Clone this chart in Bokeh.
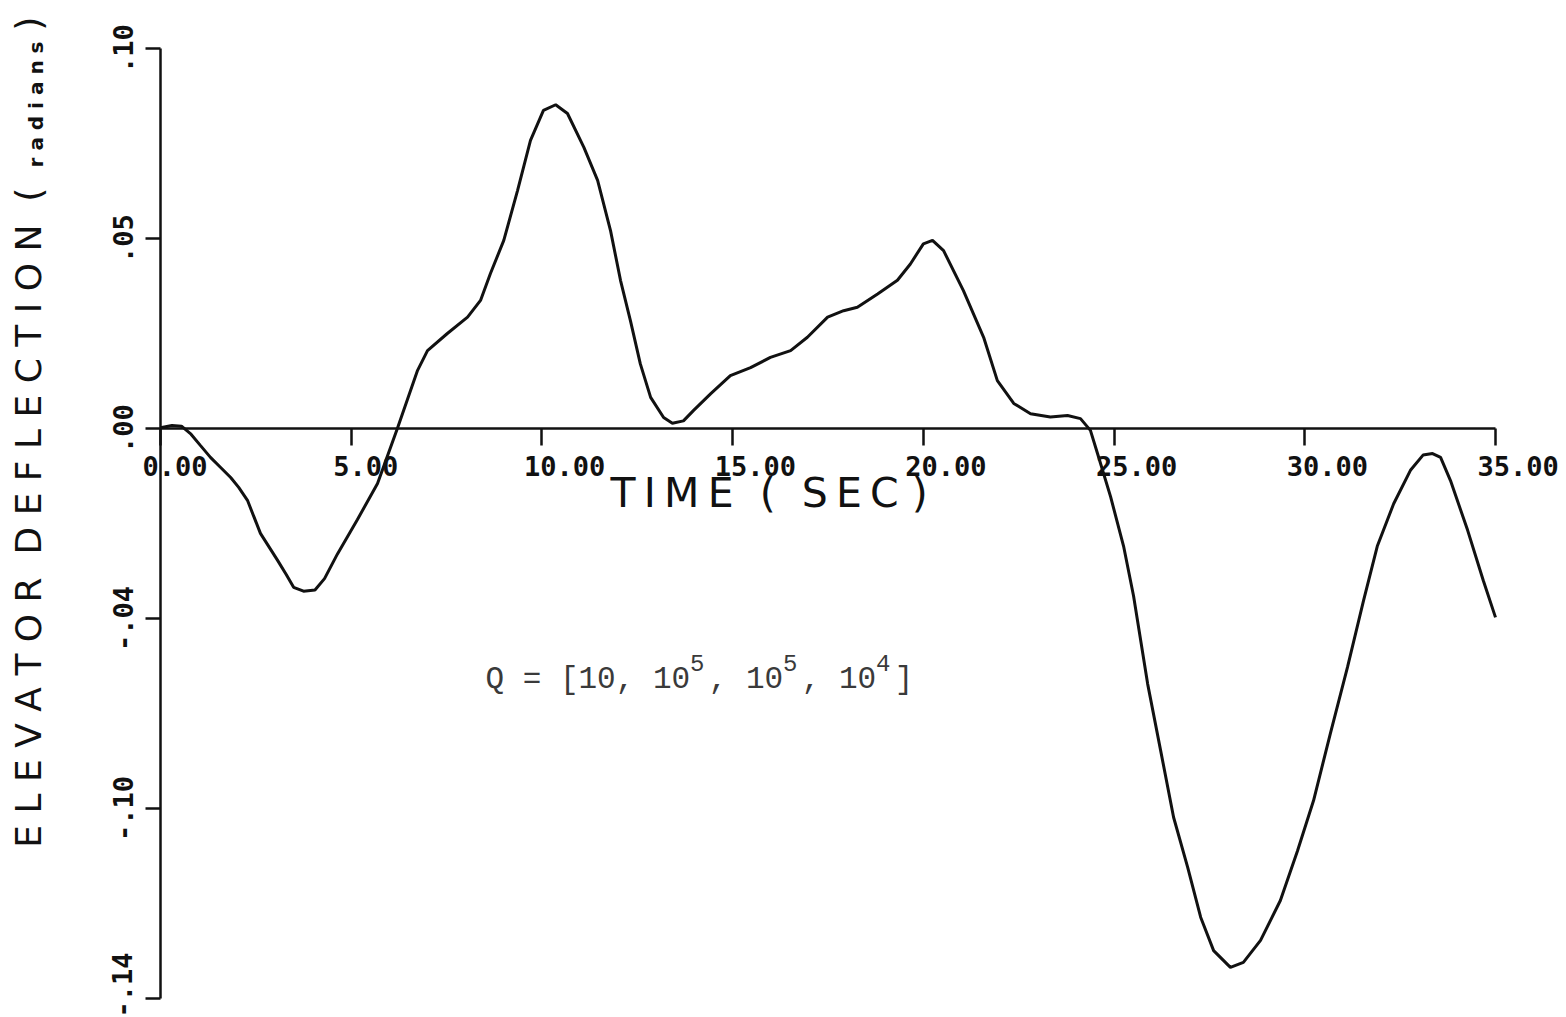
import math

from bokeh.core.properties import value
from bokeh.embed import file_html
from bokeh.models import ColumnDataSource, FixedTicker, Label, LabelSet, LinearAxis, Range1d
from bokeh.plotting import figure
from bokeh.resources import INLINE

# Elevator deflection time history (seconds, radians)
time_s = [
    0.00, 0.30, 0.55, 0.80, 1.05, 1.31, 1.55, 1.84, 2.05, 2.28, 2.62, 3.07, 3.30,
    3.49, 3.75, 4.05, 4.30, 4.64, 5.16, 5.69, 6.21, 6.74, 7.00, 7.52, 8.05, 8.39,
    8.65, 9.00, 9.36, 9.70, 10.04, 10.36, 10.67, 11.10, 11.46, 11.80, 12.06, 12.32,
    12.58, 12.85, 13.19, 13.42, 13.71, 13.97, 14.42, 14.94, 15.47, 15.99, 16.52,
    16.96, 17.49, 17.91, 18.27, 18.80, 19.32, 19.66, 20.00, 20.24, 20.53, 21.05,
    21.58, 21.94, 22.37, 22.81, 23.33, 23.78, 24.12, 24.38, 24.57, 24.91, 25.25,
    25.51, 25.88, 26.22, 26.56, 26.93, 27.27, 27.61, 28.05, 28.39, 28.84, 29.36,
    29.81, 30.23, 30.67, 31.12, 31.54, 31.90, 32.33, 32.77, 33.10, 33.35, 33.56,
    33.82, 34.27, 34.68, 35.00,
]
deflection = [
    0.0002, 0.0008, 0.0006, -0.0015, -0.0045, -0.0076, -0.0100, -0.0129, -0.0155,
    -0.0189, -0.0276, -0.0347, -0.0385, -0.0418, -0.0428, -0.0425, -0.0395, -0.0330,
    -0.0240, -0.0145, 0.0000, 0.0153, 0.0205, 0.0250, 0.0293, 0.0337, 0.0408,
    0.0495, 0.0626, 0.0758, 0.0837, 0.0852, 0.0829, 0.0740, 0.0653, 0.0520, 0.0390,
    0.0284, 0.0170, 0.0082, 0.0029, 0.0014, 0.0020, 0.0047, 0.0091, 0.0139, 0.0160,
    0.0187, 0.0205, 0.0240, 0.0293, 0.0310, 0.0319, 0.0354, 0.0390, 0.0433, 0.0486,
    0.0495, 0.0468, 0.0363, 0.0240, 0.0126, 0.0066, 0.0039, 0.0030, 0.0034, 0.0026,
    -0.0005, -0.0067, -0.0180, -0.0310, -0.0440, -0.0672, -0.0847, -0.1023, -0.1155,
    -0.1286, -0.1374, -0.1418, -0.1405, -0.1347, -0.1242, -0.1111, -0.0979, -0.0803,
    -0.0628, -0.0453, -0.0310, -0.0198, -0.0110, -0.0070, -0.0066, -0.0076, -0.0137,
    -0.0268, -0.0400, -0.0497,
]

x_ticks = [0, 5, 10, 15, 20, 25, 30, 35]
x_tick_labels = ["0.00", "5.00", "10.00", "15.00", "20.00", "25.00", "30.00", "35.00"]
y_ticks = [0.10, 0.05, 0.0, -0.05, -0.10, -0.15]
y_tick_labels = [".10", ".05", ".00", "-.04", "-.10", "-.14"]

weights_main = "Q = [10, 10 , 10 , 10 ]"
weights_exponents = ["5", "5", "4"]
exponent_slots = [11, 16, 21]

INK = "#111111"
NB = "\u00a0"
THIN = "\u2009"

# The drawing area fills the whole page; axes sit at fixed data positions
# (time axis through zero deflection, deflection axis at t = 0).
X_SPAN = (0.0, 35.0)
Y_SPAN = (-0.15, 0.10)
SEC_PER_PX = 35.0 / 1335.0
RAD_PER_PX = 0.25 / 950.0
x_range = Range1d(-160 * SEC_PER_PX, (1566 - 160) * SEC_PER_PX)
y_range = Range1d(-(1017 - 428) * RAD_PER_PX, 428 * RAD_PER_PX)

p = figure(
    width=1566, height=1017,
    output_backend="svg", toolbar_location=None,
    x_range=x_range, y_range=y_range,
    x_axis_location=None, y_axis_location=None,
    min_border=0,
)
p.outline_line_color = None
p.grid.visible = False
p.background_fill_color = "white"
p.border_fill_color = "white"

xa = LinearAxis(
    fixed_location=0, bounds=X_SPAN,
    ticker=FixedTicker(ticks=x_ticks),
    minor_tick_line_color=None,
    major_tick_in=0, major_tick_out=17,
    axis_line_width=2.5, axis_line_color=INK,
    major_tick_line_width=2.5, major_tick_line_color=INK,
    major_label_text_alpha=0, major_label_text_font_size="1px", major_label_standoff=0,
)
p.add_layout(xa, "below")

ya = LinearAxis(
    fixed_location=0, bounds=Y_SPAN,
    ticker=FixedTicker(ticks=y_ticks),
    major_label_overrides={t: s for t, s in zip(y_ticks, y_tick_labels)},
    minor_tick_line_color=None,
    major_tick_in=0, major_tick_out=15,
    axis_line_width=2.5, axis_line_color=INK,
    major_tick_line_width=2.5, major_tick_line_color=INK,
    major_label_orientation="vertical", major_label_standoff=13,
    major_label_text_font="DejaVu Sans Mono", major_label_text_font_style="bold",
    major_label_text_font_size="27px", major_label_text_color=INK,
)
p.add_layout(ya, "left")

p.line(time_s, deflection, line_color=INK, line_width=3)

# time tick labels, set just right of each tick
tick_src = ColumnDataSource(dict(x=x_ticks, y=[0] * len(x_ticks), text=x_tick_labels))
p.add_layout(LabelSet(
    x="x", y="y", text="text", source=tick_src,
    x_offset=-18, y_offset=-47, text_align="left", text_baseline="alphabetic",
    text_font=value("DejaVu Sans Mono"), text_font_style="bold",
    text_font_size="27px", text_color=INK,
))

# axis titles
x_title = "T" + THIN + "I" + THIN + "M" + THIN + "E" + NB + NB + "(" + NB + NB + \
    "S" + THIN + "E" + THIN + "C" + NB + ")"
p.add_layout(Label(
    x=11.80, y=-0.0171, text=x_title, text_align="left", text_baseline="alphabetic",
    text_font="DejaVu Sans", text_font_size="41px", text_color=INK,
))


def spaced(word):
    return " ".join(word)


TITLE_X = -132 * SEC_PER_PX
SUB_X = -125 * SEC_PER_PX
y_title = spaced("ELEVATOR") + NB + NB + spaced("DEFLECTION") + NB + NB + "("
p.add_layout(Label(
    x=TITLE_X, y=-0.1103, text=y_title, angle=math.pi / 2,
    text_align="left", text_baseline="alphabetic",
    text_font="DejaVu Sans", text_font_size="36px", text_color=INK,
))
p.add_layout(Label(
    x=SUB_X, y=0.0687, text=spaced("radians"), angle=math.pi / 2,
    text_align="left", text_baseline="alphabetic",
    text_font="DejaVu Sans", text_font_style="bold", text_font_size="20px", text_color=INK,
))
p.add_layout(Label(
    x=TITLE_X, y=0.1047, text=")", angle=math.pi / 2,
    text_align="left", text_baseline="alphabetic",
    text_font="DejaVu Sans", text_font_size="36px", text_color=INK,
))

# weighting matrix note, typed with raised exponents
NOTE_X, NOTE_Y, NOTE_SUP_Y, CHAR_W = 325 * SEC_PER_PX, -0.0661, -0.0616, 18.6
p.add_layout(Label(
    x=NOTE_X, y=NOTE_Y, text=weights_main, text_align="left", text_baseline="alphabetic",
    text_font="Liberation Mono", text_font_size="31px", text_color="#3a3a3a",
))
for slot, exp in zip(exponent_slots, weights_exponents):
    p.add_layout(Label(
        x=NOTE_X, y=NOTE_SUP_Y, x_offset=slot * CHAR_W, text=exp,
        text_align="left", text_baseline="alphabetic",
        text_font="Liberation Mono", text_font_size="24px", text_color="#3a3a3a",
    ))

open("out.html", "w").write(file_html(p, INLINE))
